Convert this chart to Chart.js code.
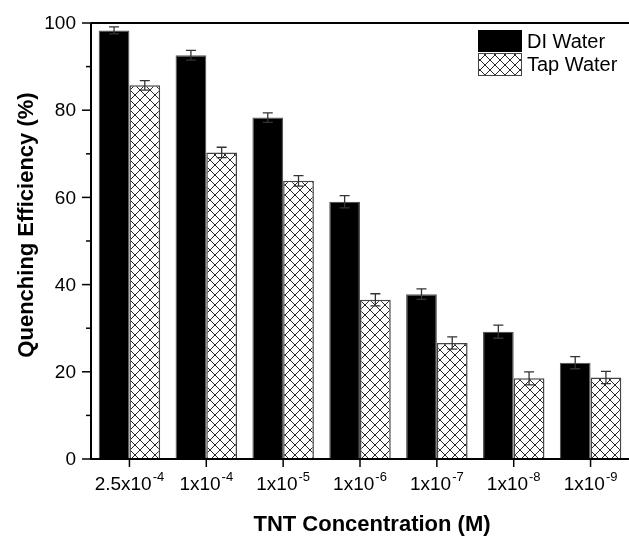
<!DOCTYPE html>
<html>
<head>
<meta charset="utf-8">
<script src="https://cdn.jsdelivr.net/npm/chart.js@4.4.0/dist/chart.umd.min.js"></script>
<style>
  html, body { margin: 0; padding: 0; background: #fff; }
  #wrap { width: 629px; height: 536px; position: relative; }
</style>
</head>
<body>
<div id="wrap"><canvas id="myChart"></canvas></div>
<script>
// concentrations, written as base + exponent so the exponent can be raised
var labelBase = ['2.5x10', '1x10', '1x10', '1x10', '1x10', '1x10', '1x10'];
var labelExp = ['-4', '-4', '-5', '-6', '-7', '-8', '-9'];
var diWater = [98.3, 92.6, 78.3, 59.0, 37.8, 29.2, 22.1];
var diErr = [0.8, 1.1, 1.1, 1.4, 1.2, 1.5, 1.4];
var tapWater = [85.7, 70.3, 63.8, 36.5, 26.6, 18.5, 18.7];
var tapErr = [1.1, 1.2, 1.2, 1.4, 1.4, 1.5, 1.4];
var yTicks = [0, 20, 40, 60, 80, 100];
var seriesNames = ['DI Water', 'Tap Water'];

var FONT = '"Liberation Sans", Arial, sans-serif';

function crossHatch() {
    var c = document.createElement('canvas');
    c.width = 10; c.height = 10;
    var g = c.getContext('2d');
    g.fillStyle = '#fff';
    g.fillRect(0, 0, 10, 10);
    g.strokeStyle = '#111';
    g.lineWidth = 0.9;
    g.beginPath();
    g.moveTo(0, 0); g.lineTo(10, 10);
    g.moveTo(10, 0); g.lineTo(0, 10);
    g.stroke();
    return g.createPattern(c, 'repeat');
}
var hatch = crossHatch();

var decorations = {
    id: 'decorations',
    afterDraw: function (chart) {
        var ctx = chart.ctx;
        var area = chart.chartArea;
        var xs = chart.scales.x, ys = chart.scales.y;
        ctx.save();

        // error bars
        var errs = [diErr, tapErr];
        var vals = [diWater, tapWater];
        ctx.strokeStyle = '#333';
        ctx.lineWidth = 1.3;
        for (var d = 0; d < 2; d++) {
            var meta = chart.getDatasetMeta(d);
            for (var i = 0; i < meta.data.length; i++) {
                var bx = meta.data[i].x;
                var hi = ys.getPixelForValue(vals[d][i] + errs[d][i]);
                var lo = ys.getPixelForValue(vals[d][i] - errs[d][i]);
                ctx.beginPath();
                ctx.moveTo(bx, hi); ctx.lineTo(bx, lo);
                ctx.moveTo(bx - 5, hi); ctx.lineTo(bx + 5, hi);
                ctx.moveTo(bx - 5, lo); ctx.lineTo(bx + 5, lo);
                ctx.stroke();
            }
        }

        // frame: top line, left and bottom axes
        ctx.strokeStyle = '#000';
        ctx.lineWidth = 2;
        ctx.beginPath();
        ctx.moveTo(area.left, area.top); ctx.lineTo(area.right, area.top);
        ctx.moveTo(area.left, area.top); ctx.lineTo(area.left, area.bottom);
        ctx.moveTo(area.left - 1, area.bottom); ctx.lineTo(area.right, area.bottom);
        ctx.stroke();

        // y ticks (major every 20, minor between)
        ctx.lineWidth = 1.5;
        ctx.fillStyle = '#000';
        ctx.font = '19px ' + FONT;
        ctx.textAlign = 'right';
        ctx.textBaseline = 'middle';
        for (var v = 0; v <= 100; v += 10) {
            var py = ys.getPixelForValue(v);
            var len = (yTicks.indexOf(v) >= 0) ? 9 : 5;
            ctx.beginPath();
            ctx.moveTo(area.left - len, py); ctx.lineTo(area.left, py);
            ctx.stroke();
        }
        yTicks.forEach(function (t) {
            ctx.fillText(String(t), area.left - 15, ys.getPixelForValue(t) + 1);
        });

        // x ticks and labels with superscript exponent
        ctx.textAlign = 'left';
        ctx.textBaseline = 'alphabetic';
        for (var k = 0; k < labelBase.length; k++) {
            var px = xs.getPixelForValue(k);
            ctx.beginPath();
            ctx.moveTo(px, area.bottom); ctx.lineTo(px, area.bottom + 8);
            ctx.stroke();
            ctx.font = '19px ' + FONT;
            var wb = ctx.measureText(labelBase[k]).width;
            ctx.font = '13px ' + FONT;
            var we = ctx.measureText(labelExp[k]).width;
            var x0 = px - (wb + we + 1) / 2;
            ctx.font = '19px ' + FONT;
            ctx.fillText(labelBase[k], x0, area.bottom + 31);
            ctx.font = '13px ' + FONT;
            ctx.fillText(labelExp[k], x0 + wb + 1, area.bottom + 22);
        }

        // axis titles
        ctx.font = 'bold 22px ' + FONT;
        ctx.textAlign = 'center';
        ctx.textBaseline = 'middle';
        ctx.fillText('TNT Concentration (M)', 372, 525);
        ctx.save();
        ctx.translate(27, 225);
        ctx.rotate(-Math.PI / 2);
        ctx.fillText('Quenching Efficiency (%)', 0, 0);
        ctx.restore();

        // legend
        var lx = 478, ly = 30;
        ctx.fillStyle = '#000';
        ctx.fillRect(lx, ly, 44, 22);
        ctx.fillStyle = hatch;
        ctx.fillRect(lx, ly + 23, 44, 23);
        ctx.strokeStyle = '#444';
        ctx.lineWidth = 1;
        ctx.strokeRect(lx + 0.5, ly + 23.5, 43, 22);
        ctx.fillStyle = '#000';
        ctx.font = '20px ' + FONT;
        ctx.textAlign = 'left';
        ctx.fillText(seriesNames[0], lx + 49, ly + 12);
        ctx.fillText(seriesNames[1], lx + 49, ly + 35);

        ctx.restore();
    }
};

var ctx = document.getElementById('myChart').getContext('2d');
var myChart = new Chart(ctx, {
    type: 'bar',
    data: {
        labels: labelBase.map(function (b, i) { return b + '^' + labelExp[i]; }),
        datasets: [{
            label: seriesNames[0],
            data: diWater,
            backgroundColor: '#000',
            borderColor: '#555',
            borderWidth: 1.2,
            categoryPercentage: 0.8,
            barPercentage: 1.0
        }, {
            label: seriesNames[1],
            data: tapWater,
            backgroundColor: hatch,
            borderColor: '#444',
            borderWidth: 1.5,
            categoryPercentage: 0.8,
            barPercentage: 1.0
        }]
    },
    options: {
        responsive: true,
        maintainAspectRatio: false,
        animation: false,
        layout: { padding: { top: 23, right: 0, left: 0, bottom: 0 } },
        plugins: {
            legend: { display: false },
            tooltip: { enabled: false }
        },
        scales: {
            x: {
                grid: { display: false },
                border: { display: false },
                ticks: { display: false },
                afterFit: function (scale) { scale.height = 77; }
            },
            y: {
                min: 0,
                max: 100,
                grid: { display: false },
                border: { display: false },
                ticks: { display: false, stepSize: 10 },
                afterFit: function (scale) { scale.width = 91; }
            }
        }
    },
    plugins: [decorations]
});
</script>
</body>
</html>
